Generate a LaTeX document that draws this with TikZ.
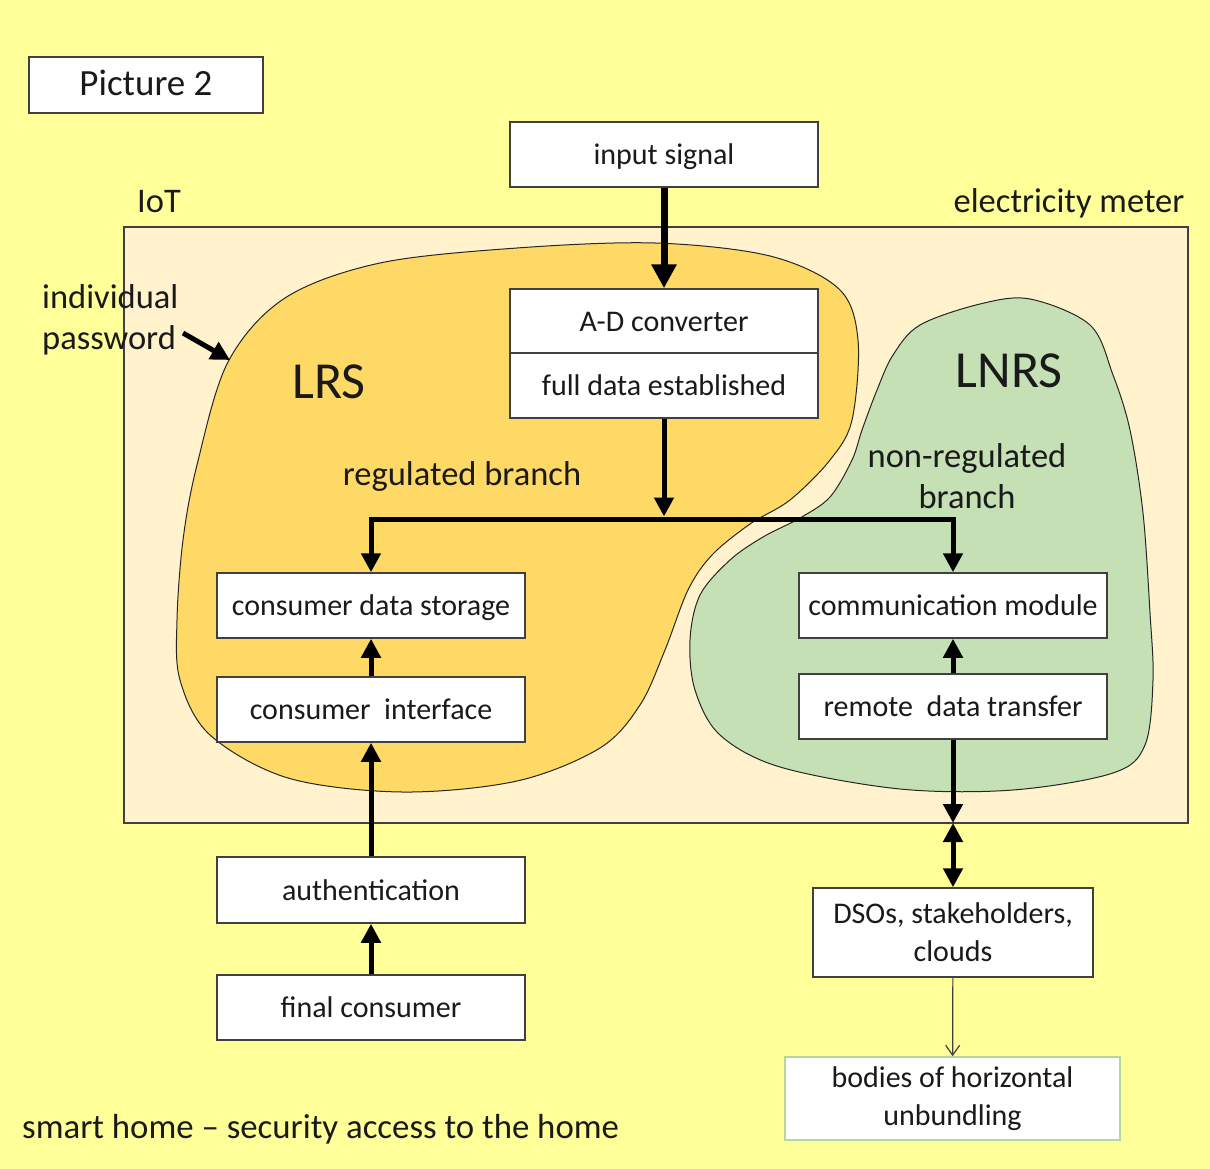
\documentclass[tikz,border=0pt]{standalone}
\usepackage{fontspec}
\setmainfont{Carlito}
\usetikzlibrary{arrows.meta}
\definecolor{bgyellow}{HTML}{FFFF99}
\definecolor{peach}{HTML}{FFF2CC}
\definecolor{lrsorange}{HTML}{FFD966}
\definecolor{lnrsgreen}{HTML}{C5E0B4}
\definecolor{boxline}{HTML}{404040}
\definecolor{bodyline}{HTML}{B4D89C}
\definecolor{txt}{HTML}{1A1A1A}
\newcommand\bxfont{\fontsize{30}{38}\selectfont}
\newcommand\lblfont{\fontsize{34.5}{41}\selectfont}
\newcommand\hugefont{\fontsize{52}{60}\selectfont}
\newcommand\picfont{\fontsize{37}{44}\selectfont}
\begin{document}
\begin{tikzpicture}[x=1pt,y=-1pt,
  box/.style={draw=boxline, line width=1.5pt, fill=white, minimum width=308pt,
    minimum height=65pt, inner sep=0pt, font=\bxfont, text=txt,
    text height=26pt, text depth=6pt},
  box2/.style={draw=boxline, line width=1.5pt, fill=white, inner sep=0pt,
    font=\bxfont, text=txt, align=center},
  lbl/.style={font=\lblfont, text=txt, inner sep=0pt},
  blob/.style={draw=black!85, line width=1pt},
  arr/.style={line width=5pt, draw=black, -{Triangle[width=19pt,length=19pt]}},
  bigarr/.style={line width=7pt, draw=black, -{Triangle[width=24pt,length=24pt]}},
  darr/.style={line width=5pt, draw=black, {Triangle[width=19pt,length=19pt]}-{Triangle[width=19pt,length=19pt]}},
  thinarr/.style={line width=1.2pt, draw=boxline, -{Straight Barb[width=14pt,length=10pt]}}
]
\useasboundingbox (0,0) rectangle (1210,1169);
\fill[bgyellow] (0,0) rectangle (1210,1169);

% electricity meter frame
\draw[fill=peach, draw=boxline, line width=1.5pt] (124,227) rectangle (1188,823);

% LRS blob
\draw[blob, fill=lrsorange] plot[smooth cycle, tension=0.55] coordinates {
 (177,620) (183,540) (197,465) (228,362) (285,298) (380,263) (517,248)
 (655,243) (770,256) (839,289) (858,340) (852,420) (830,460) (790,500)
 (750,524) (712,555) (688,590) (665,650) (640,705) (600,748) (517,781)
 (402,792) (288,778) (210,735) (180,680)};

% LNRS blob
\draw[blob, fill=lnrsgreen] plot[smooth cycle, tension=0.55] coordinates {
 (1030,299) (1090,325) (1113,375) (1130,430) (1143,513) (1150,613)
 (1153,680) (1145,745) (1113,773) (1013,790) (900,789) (780,767)
 (720,735) (695,690) (690,640) (700,595) (730,560) (763,537) (800,518)
 (830,497) (852,460) (862,430) (877,390) (893,355) (920,325) (980,304)};

% title
\node[draw=boxline, line width=1.5pt, fill=white, minimum width=234pt, minimum height=56pt,
  inner sep=0pt, font=\picfont, text=txt, text height=27pt, text depth=6pt] (pic) at (146,85) {Picture 2};

% labels
\node[lbl, anchor=base] (iot) at (159,213) {IoT};
\node[lbl, anchor=base] (meter) at (1069,213) {electricity meter};
\node[lbl, anchor=north west, align=left] (pw) at (42,284) {individual\\password};
\node[font=\hugefont, text=txt, inner sep=0pt, anchor=base] (lrs) at (329,398) {LRS};
\node[font=\hugefont, text=txt, inner sep=0pt, anchor=base] (lnrs) at (1009,387) {LNRS};
\node[lbl, anchor=base] (reg) at (462,485) {regulated branch};
\node[lbl, anchor=north, align=center] (nreg) at (967,443) {non-regulated\\branch};
\node[lbl, font=\fontsize{34.8}{41}\selectfont, anchor=base west] (smart) at (22,1138) {smart home -- security access to the home};

% boxes
\node[box] (inp) at (664,154.5) {input signal};
\node[box, minimum height=64pt] (ad) at (664,321) {A-D converter};
\node[box] (full) at (664,385.5) {full data established};
\node[box] (cds) at (371,605.5) {consumer data storage};
\node[box] (ci) at (371,709.5) {consumer\ \ interface};
\node[box, minimum height=66pt] (auth) at (371,890) {authentication};
\node[box] (fc) at (371,1007.5) {final consumer};
\node[box] (comm) at (953,605.5) {communication module};
\node[box] (rdt) at (953,706.5) {remote\ \ data transfer};
\node[box2, minimum width=280pt, minimum height=89pt] (dso) at (953,932.5) {DSOs, stakeholders,\\clouds};
\node[box2, draw=bodyline, minimum width=335pt, minimum height=83pt] (bodies) at (952.5,1098.5) {bodies of horizontal\\unbundling};

% coordinates
\coordinate (jm) at (664,519);
\coordinate (mb) at (953,823);
\coordinate (pwa) at (183,333);
\coordinate (pwb) at (230,360);

% connectors
\draw[bigarr] (inp) -- (ad);
\draw[arr] (full) -- ([yshift=2.5pt]jm);
\draw[arr] (jm) -| (cds.north);
\draw[arr] (jm) -| (comm.north);
\draw[arr] (ci) -- (cds);
\draw[arr] (auth) -- (ci);
\draw[arr] (fc) -- (auth);
\draw[arr] (rdt) -- (comm);
\draw[arr] (rdt) -- (mb);
\draw[darr] (mb) -- (dso);
\draw[thinarr] (dso) -- (bodies);
\draw[arr] (pwa) -- (pwb);
\end{tikzpicture}
\end{document}
